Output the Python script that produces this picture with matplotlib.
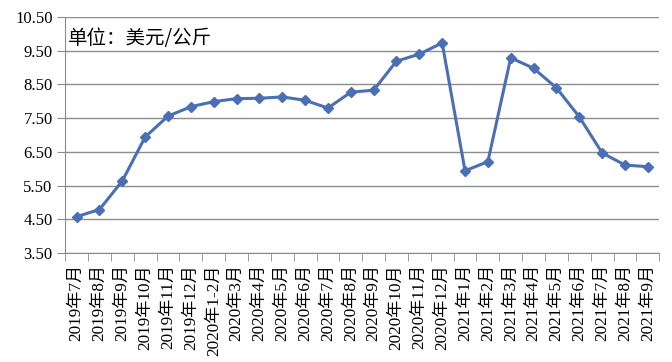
"""Monthly price line chart (USD/kg)."""

import matplotlib.pyplot as plt
import numpy as np

months = [
    "2019年7月", "2019年8月", "2019年9月", "2019年10月", "2019年11月", "2019年12月",
    "2020年1-2月", "2020年3月", "2020年4月", "2020年5月", "2020年6月", "2020年7月",
    "2020年8月", "2020年9月", "2020年10月", "2020年11月", "2020年12月",
    "2021年1月", "2021年2月", "2021年3月", "2021年4月", "2021年5月", "2021年6月",
    "2021年7月", "2021年8月", "2021年9月",
]
prices = [
    4.58, 4.79, 5.64, 6.94, 7.56, 7.84,
    7.99, 8.08, 8.09, 8.13, 8.03, 7.80,
    8.27, 8.33, 9.19, 9.40, 9.73,
    5.94, 6.21, 9.29, 8.98, 8.40, 7.54,
    6.47, 6.11, 6.06,
]
yticks = [3.5, 4.5, 5.5, 6.5, 7.5, 8.5, 9.5, 10.5]

serif = ["Liberation Serif", "Noto Sans CJK SC"]
grid_color = "#8c8c8c"

fig = plt.figure(figsize=(6.72, 3.62), dpi=100)
ax = fig.add_axes([0.097, 0.301, 0.884, 0.652])

x = np.arange(len(months))
ax.plot(x, prices, color="#4a6fb5", linewidth=2.2, marker="D", markersize=5.5,
        zorder=3)

ax.set_ylim(3.5, 10.5)
ax.set_yticks(yticks)
ax.set_yticklabels([f"{v:.2f}" for v in yticks], family=serif, fontsize=12)
ax.yaxis.grid(True, color=grid_color, linewidth=1)
ax.tick_params(axis="y", length=6, color=grid_color, pad=3)

ax.set_xlim(-0.5, len(months) - 0.5)
ax.set_xticks(x)
ax.set_xticklabels(months, rotation=90, family=serif, fontsize=12.3)
ax.set_xticks(np.arange(len(months) + 1) - 0.5, minor=True)
ax.tick_params(axis="x", which="major", length=0, pad=8)
ax.tick_params(axis="x", which="minor", length=6, color=grid_color)

for side in ("top", "right"):
    ax.spines[side].set_visible(False)
for side in ("left", "bottom"):
    ax.spines[side].set_color(grid_color)
ax.set_axisbelow(True)

ax.text(0.005, 0.91, "单位：美元/公斤", transform=ax.transAxes,
        family=["Noto Sans CJK SC", "DejaVu Sans"], fontsize=14, va="center")

fig.savefig("out.png", dpi=100)
plt.close(fig)
